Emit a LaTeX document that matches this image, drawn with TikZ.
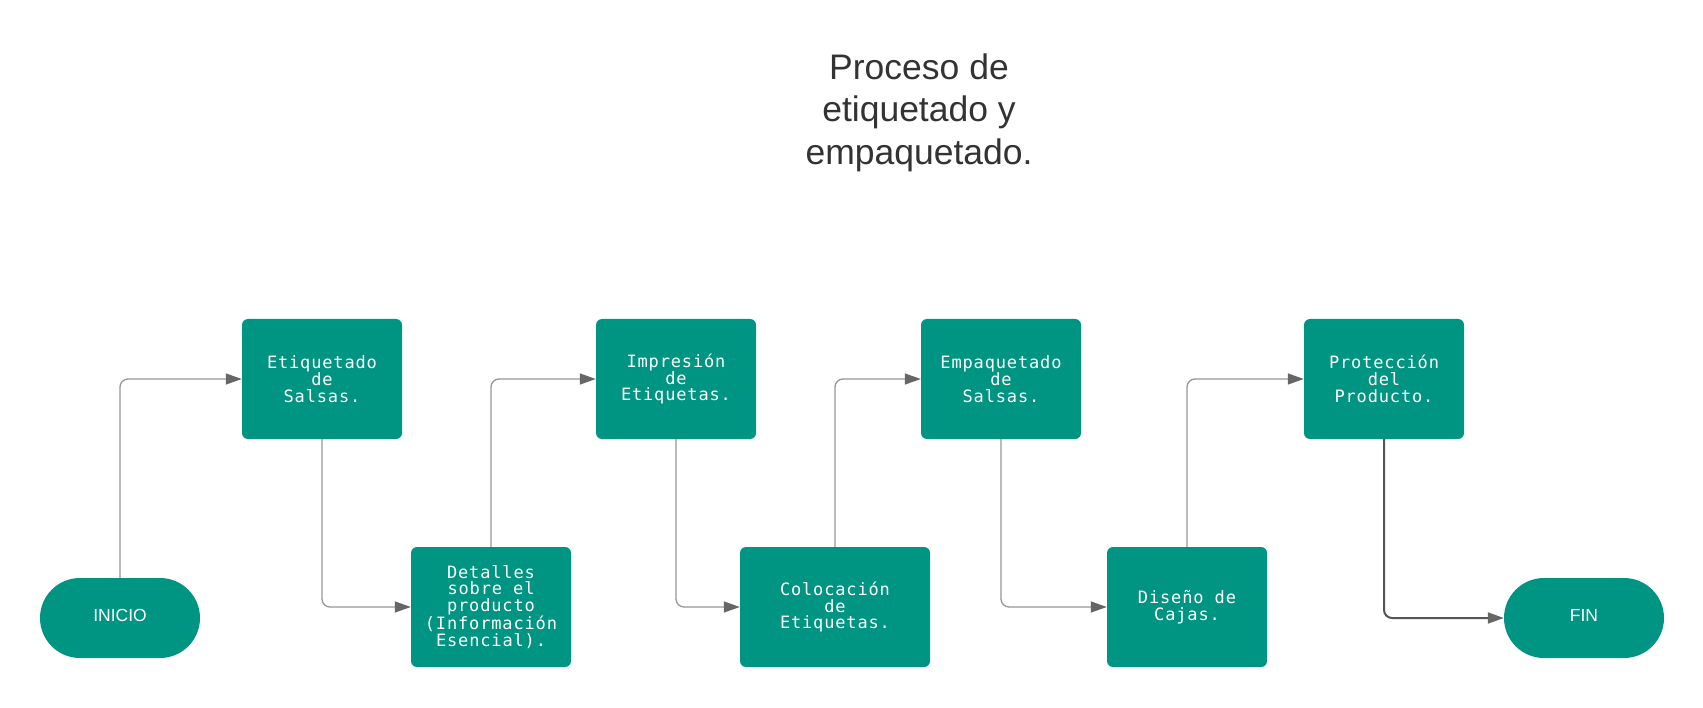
\documentclass[tikz,border=0pt]{standalone}
\usepackage{fontspec}
\newfontfamily\boxfont{DejaVu Sans Mono}[LetterSpace=5]
\newfontfamily\termfont{Liberation Sans}
\usetikzlibrary{arrows.meta}
\definecolor{flowteal}{RGB}{0,148,130}
\definecolor{linegray}{RGB}{150,150,150}
\definecolor{tipgray}{RGB}{102,102,102}
\definecolor{endgray}{RGB}{85,85,85}
\definecolor{titlegray}{RGB}{51,51,51}

\begin{document}
\begin{tikzpicture}[x=1pt,y=-1pt]
\tikzset{
procbox/.style={rectangle,rounded corners=6pt,fill=flowteal,text=white,minimum width=160pt,minimum height=120pt,
inner sep=0pt,align=center,font=\boxfont\fontsize{17}{16.7}\selectfont},
termbox/.style={rectangle,rounded corners=40pt,fill=flowteal,text=white,minimum width=160pt,minimum height=80pt,
inner sep=0pt,text height=12.5pt,text depth=6pt,font=\termfont\fontsize{17.5}{20}\selectfont},
myarrow/.style={-{Triangle[length=16pt,width=11pt,color=tipgray]}, draw=linegray, line width=1.3pt, rounded corners=8pt},
endarrow/.style={myarrow, draw=endgray, line width=2pt},
mytitle/.style={align=center,text=titlegray,font=\termfont\fontsize{35.5}{42.5}\selectfont},
}
\useasboundingbox (0,0) rectangle (1703,708);

\node [mytitle] (titulo) at (919,112.5) {Proceso de\\etiquetado y\\empaquetado.};

\node [termbox] (inicio) at (120,618) {INICIO};
\node [procbox] (etiquetado) at (322,379) {Etiquetado\\de\\Salsas.};
\node [procbox] (detalles) at (491,607) {Detalles\\sobre el\\producto\\(Información\\Esencial).};
\node [procbox] (impresion) at (676,379) {Impresión\\de\\Etiquetas.};
\node [procbox, minimum width=190pt] (colocacion) at (835,607) {Colocación\\de\\Etiquetas.};
\node [procbox] (empaquetado) at (1001,379) {Empaquetado\\de\\Salsas.};
\node [procbox] (diseno) at (1187,607) {Diseño de\\Cajas.};
\node [procbox] (proteccion) at (1384,379) {Protección\\del\\Producto.};
\node [termbox] (fin) at (1584,618) {FIN};

\draw[myarrow] (inicio.north) |- (etiquetado.west);
\draw[myarrow] (etiquetado.south) |- (detalles.west);
\draw[myarrow] (detalles.north) |- (impresion.west);
\draw[myarrow] (impresion.south) |- (colocacion.west);
\draw[myarrow] (colocacion.north) |- (empaquetado.west);
\draw[myarrow] (empaquetado.south) |- (diseno.west);
\draw[myarrow] (diseno.north) |- (proteccion.west);
\draw[endarrow] (proteccion.south) |- (fin.west);
\end{tikzpicture}
\end{document}
